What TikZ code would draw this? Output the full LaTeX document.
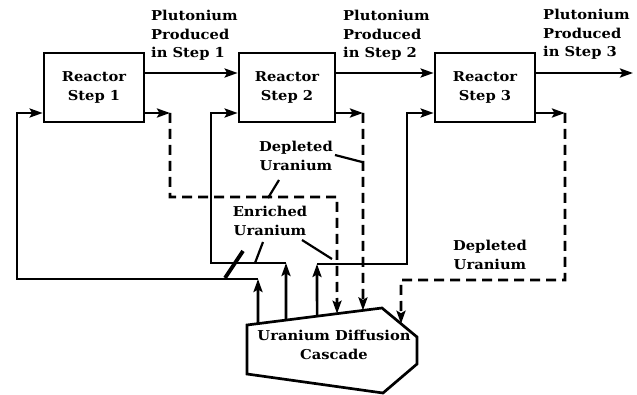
\documentclass[tikz,border=0pt]{standalone}
\usepackage{fontspec}
\setmainfont{DejaVu Serif}[FakeStretch=1.08]
\usetikzlibrary{arrows.meta,calc}
\begin{document}
\begin{tikzpicture}[x=1pt,y=-1pt,
  lbl/.style={font=\fontsize{13.6}{18.5}\selectfont\bfseries, inner sep=0pt, align=left},
  clbl/.style={font=\fontsize{13.6}{19}\selectfont\bfseries, inner sep=0pt, align=center},
  reactor/.style={draw, line width=2.7pt, minimum height=69pt, inner sep=0pt, align=center,
    font=\fontsize{13.6}{19.5}\selectfont\bfseries},
  tipA/.tip={Stealth[length=13pt,width=9pt,inset=2.5pt]},
  flow/.style={line width=2.6pt, -tipA},
  dflow/.style={line width=2.6pt, -tipA, dash pattern=on 10pt off 6pt},
  leader/.style={line width=2.2pt},
  outline/.style={line width=2.7pt, line join=miter},
]
\useasboundingbox (0,0) rectangle (637,395);

% reactors
\node[reactor, minimum width=100pt] (r1) at (94,87.5) {Reactor\\Step 1};
\node[reactor, minimum width=96pt]  (r2) at (287,87.5) {Reactor\\Step 2};
\node[reactor, minimum width=100pt] (r3) at (485,87.5) {Reactor\\Step 3};

\coordinate (yt) at (0,73);
\coordinate (yb) at (0,113);

% cascade
\coordinate (c1) at (247,325);
\coordinate (c2) at (382,308);
\coordinate (c3) at (417,337);
\coordinate (c4) at (417,364);
\coordinate (c5) at (383,393);
\coordinate (c6) at (247,374);
\draw[outline] (c1) -- (c2) -- (c3) -- (c4) -- (c5) -- (c6) -- cycle;
\node[clbl] (casc) at (334,345) {Uranium Diffusion\\Cascade};

\coordinate (a1) at ($(c1)!0.0815!(c2)$);
\coordinate (a2) at ($(c1)!0.289!(c2)$);
\coordinate (a3) at ($(c1)!0.519!(c2)$);
\coordinate (a4) at ($(c1)!0.667!(c2)$);
\coordinate (a5) at ($(c1)!0.859!(c2)$);
\coordinate (a6) at ($(c2)!0.543!(c3)$);

% plutonium flow
\coordinate (out3) at (633,73);
\draw[flow] (r1.east |- yt) -- (r2.west |- yt);
\draw[flow] (r2.east |- yt) -- (r3.west |- yt);
\draw[flow] (r3.east |- yt) -- (out3);

% enriched uranium returns
\coordinate (b1) at (258,279);
\coordinate (b2) at (286,263);
\coordinate (b3) at (317,264);
\draw[flow] (a1) -- (b1);
\draw[flow] (b1) -- (17,279) -- (17,113) -- (r1.west |- yb);
\draw[flow] (a2) -- (b2);
\draw[flow] (b2) -- (211,263) -- (211,113) -- (r2.west |- yb);
\draw[flow] (a3) -- (b3);
\draw[flow] (b3) -- (407,264) -- (407,113) -- (r3.west |- yb);

% depleted uranium
\coordinate (d1) at (170,113);
\coordinate (d2) at (363,113);
\coordinate (d3) at (565,113);
\draw[flow] (r1.east |- yb) -- (d1);
\draw[dflow] (d1) -- (170,197) -- (337,197) -- (a4);
\draw[flow] (r2.east |- yb) -- (d2);
\draw[dflow] (d2) -- (a5);
\draw[flow] (r3.east |- yb) -- (d3);
\draw[dflow] (d3) -- (565,280) -- (401,280) -- (a6);

% labels
\node[lbl, anchor=north west] (p1) at (151,10) {Plutonium\\Produced\\in Step 1};
\node[lbl, anchor=north west] (p2) at (343,10) {Plutonium\\Produced\\in Step 2};
\node[lbl, anchor=north west] (p3) at (543,9) {Plutonium\\Produced\\in Step 3};

\node[clbl] (dep1) at (296,155.5) {Depleted\\Uranium};
\node[clbl] (enr) at (270,221) {Enriched\\Uranium};
\node[clbl] (dep2) at (490,254.5) {Depleted\\Uranium};

% leaders
\coordinate (l1a) at (335,155); \coordinate (l1b) at (362,162);
\coordinate (l2a) at (279,180); \coordinate (l2b) at (268,198);
\coordinate (l3a) at (263,242); \coordinate (l3b) at (255,263);
\coordinate (l4a) at (302,240); \coordinate (l4b) at (332,259);
\coordinate (l5a) at (243,251); \coordinate (l5b) at (225,278);
\draw[leader] (l1a) -- (l1b);
\draw[leader] (l2a) -- (l2b);
\draw[leader] (l3a) -- (l3b);
\draw[leader] (l4a) -- (l4b);
\draw[line width=3.8pt] (l5a) -- (l5b);
\end{tikzpicture}
\end{document}
